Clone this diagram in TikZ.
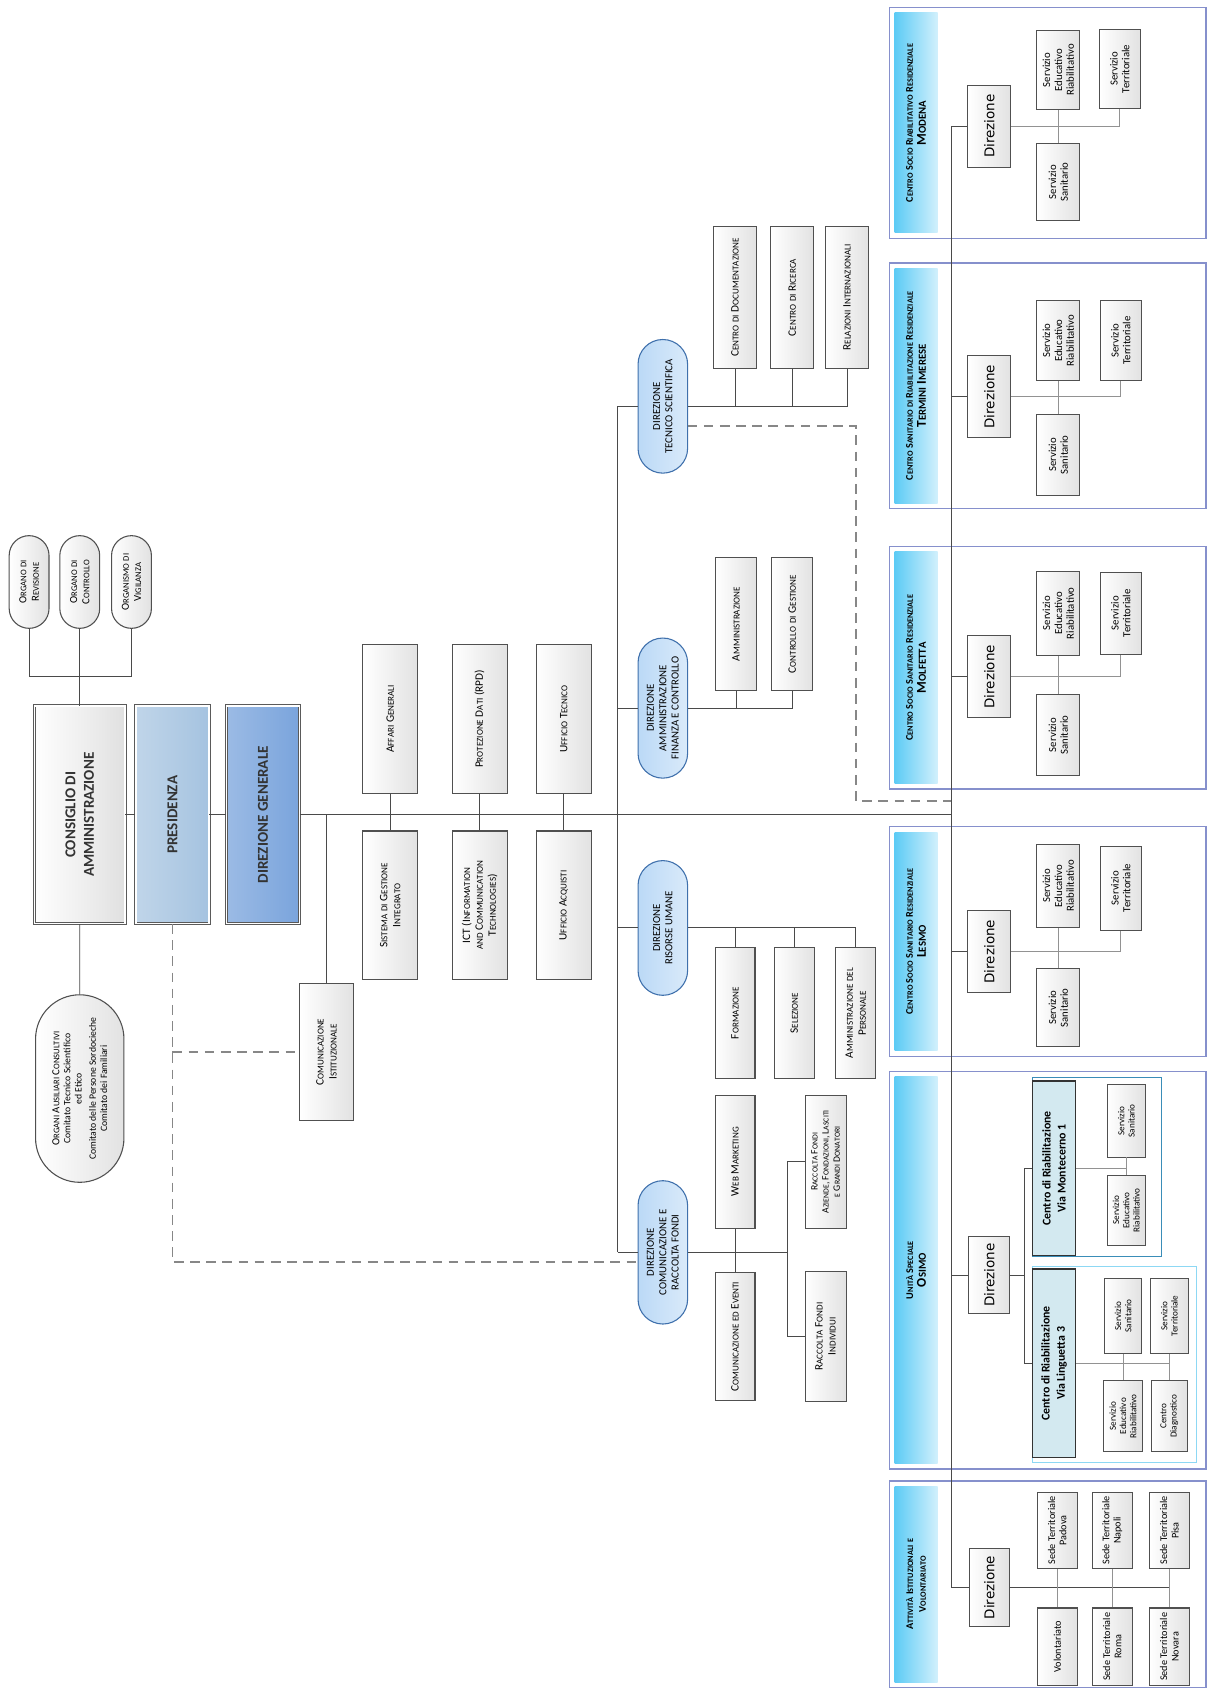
\documentclass[tikz,border=0pt]{standalone}
\usepackage{fontspec}
\setmainfont{Carlito}
\newfontfamily\dirfont{DejaVu Sans}
\usepackage{graphicx}
\usepackage{xcolor}
\usepackage{tikz}
\usetikzlibrary{shapes.misc}
\definecolor{boxline}{HTML}{505050}
\definecolor{boxshade}{HTML}{E2E2E2}
\definecolor{edge}{HTML}{4A4A4A}
\definecolor{dashc}{HTML}{878787}
\definecolor{headline}{HTML}{5A5A5A}
\definecolor{presfill}{HTML}{A5C3E0}
\definecolor{dgfill}{HTML}{7AA4DC}
\definecolor{dirline}{HTML}{3F70AC}
\definecolor{dirfill}{HTML}{BBD9F6}
\definecolor{zoneline}{HTML}{8690CC}
\definecolor{banddark}{HTML}{5CCBF5}
\definecolor{bandlight}{HTML}{D2F0FC}
\definecolor{montline}{HTML}{3A8DB8}
\definecolor{lingline}{HTML}{8DD8F4}
\definecolor{centrofill}{HTML}{D3E9F0}

% small caps made by hand: lower case letters become small capitals
\ExplSyntaxOn
\seq_new:N \l__org_words_seq
\bool_new:N \l__org_gap_bool
\NewDocumentCommand \fsc { m }
  {
    \seq_set_split:Nnn \l__org_words_seq { ~ } { #1 }
    \bool_set_false:N \l__org_gap_bool
    \seq_map_inline:Nn \l__org_words_seq
      {
        \bool_if:NT \l__org_gap_bool { \c_space_tl }
        \bool_set_true:N \l__org_gap_bool
        \tl_map_inline:nn { ##1 }
          {
            \str_if_eq:eeTF { ####1 } { \text_uppercase:n { ####1 } }
              { ####1 }
              { \scalebox { 0.8 } { \text_uppercase:n { ####1 } } }
          }
      }
  }
\ExplSyntaxOff

\tikzset{
  wh/.style 2 args={minimum width=#1, minimum height=#2},
  unit/.style={draw=boxline, line width=1pt, left color=white, right color=boxshade,
    rotate=90, align=center, inner sep=1pt, font=\fontsize{10.5}{12}\selectfont},
  organ/.style={unit, rounded rectangle, font=\fontsize{10}{11.5}\selectfont},
  head/.style={draw=headline, double=white, double distance=1.4pt, line width=0.7pt,
    rotate=90, align=center, text=black!80, font=\fontsize{14}{17}\selectfont\bfseries},
  direz/.style={rounded rectangle, draw=dirline, line width=1pt, left color=dirfill,
    right color=dirfill!55!white, rotate=90, align=center, inner sep=1pt,
    font=\fontsize{10}{11.5}\selectfont},
  zone/.style={draw=zoneline, line width=1.2pt, inner sep=0pt},
  band/.style={left color=banddark, right color=bandlight, rotate=90, align=center,
    inner sep=1pt, font=\fontsize{9.5}{12}\selectfont\bfseries},
  lead/.style={unit, font=\dirfont\fontsize{12.5}{14}\selectfont},
  serv/.style={unit, font=\fontsize{10}{11}\selectfont},
  subserv/.style={unit, line width=0.8pt, font=\fontsize{8.5}{9.5}\selectfont},
  centro/.style={draw=black!80, line width=1.3pt, fill=centrofill, rotate=90, align=center,
    inner sep=1pt, font=\fontsize{11}{14}\selectfont\bfseries},
  link/.style={draw=edge, line width=0.9pt},
  sublink/.style={draw=edge!60, line width=0.8pt},
  dashline/.style={draw=dashc, line width=1.6pt, dash pattern=on 9pt off 6pt},
}

\begin{document}
\begin{tikzpicture}[x=1pt, y=-1pt]
\useasboundingbox (0,0) rectangle (1122,1569);

% governance
\node[organ, wh={88}{37}] (orev) at (27,540) {\fsc{Organo di}\\\fsc{Revisione}};
\node[organ, wh={88}{37}] (ocon) at (74,540) {\fsc{Organo di}\\\fsc{Controllo}};
\node[organ, wh={88}{37}] (ovig) at (122,540) {\fsc{Organismo di}\\\fsc{Vigilanza}};
\coordinate (brk) at (74,628);
\node[head, left color=white, right color=black!12, wh={202}{84}] (cda) at (74,756) {CONSIGLIO DI\\AMMINISTRAZIONE};
\node[organ, wh={176}{82}, font=\fontsize{9}{10.3}\selectfont] (oac) at (74,1010)
  {{\fontsize{10}{11}\selectfont\fsc{Organi Ausiliari Consultivi}}\\Comitato Tecnico Scientifico\\ed Etico\\[3pt]Comitato delle Persone Sordocieche\\Comitato dei Familiari};
\node[head, left color=presfill!70!white, right color=presfill, wh={202}{68}] (pres) at (160,756) {PRESIDENZA};
\node[head, left color=dgfill!75!white, right color=dgfill, wh={202}{68}] (dg) at (244,756) {DIREZIONE GENERALE};

\draw[link] (orev) |- (brk) -| (ovig);
\draw[link] (ocon) -- (cda);
\draw[link] (cda) -- (oac);
\draw[link] (cda) -- (pres);
\draw[link] (pres) -- (dg);

\coordinate (spine) at (883,0);
\coordinate (trunk) at (573,0);
\coordinate (bus) at (731,0);
\draw[link] (dg) -- (dg -| spine);

% staff
\node[unit, wh={127}{50}] (comm) at (303,976) {\fsc{Comunicazione}\\\fsc{Istituzionale}};
\node[unit, wh={138}{51}] (affari) at (362,667) {\fsc{Affari Generali}};
\node[unit, wh={138}{51}] (sgi) at (362,840) {\fsc{Sistema di Gestione}\\\fsc{Integrato}};
\node[unit, wh={138}{51}] (rpd) at (445,667) {\fsc{Protezione Dati (RPD)}};
\node[unit, wh={138}{51}] (ict) at (445,840) {\fsc{ICT (Information}\\\fsc{and Communication}\\\fsc{Technologies)}};
\node[unit, wh={138}{51}] (utec) at (523,667) {\fsc{Ufficio Tecnico}};
\node[unit, wh={138}{51}] (uacq) at (523,840) {\fsc{Ufficio Acquisti}};

\draw[link] (dg -| comm) -- (comm);
\draw[link] (affari) -- (sgi);
\draw[link] (rpd) -- (ict);
\draw[link] (utec) -- (uacq);

% directions
\node[direz, wh={126}{46}] (dts) at (615,377) {DIREZIONE\\TECNICO SCIENTIFICA};
\node[direz, wh={132}{46}] (dafc) at (615,657) {DIREZIONE\\AMMINISTRAZIONE\\FINANZA E CONTROLLO};
\node[direz, wh={127}{46}] (dru) at (615,861) {DIREZIONE\\RISORSE UMANE};
\node[direz, wh={135}{46}] (dcrf) at (615,1162) {DIREZIONE\\COMUNICAZIONE E\\RACCOLTA FONDI};

\draw[link] (dts -| trunk) -- (dcrf -| trunk);
\draw[link] (dts -| trunk) -- (dts);
\draw[link] (dafc -| trunk) -- (dafc);
\draw[link] (dru -| trunk) -- (dru);
\draw[link] (dcrf -| trunk) -- (dcrf);

\node[unit, wh={132}{40}] (cdoc) at (682,276) {\fsc{Centro di Documentazione}};
\node[unit, wh={132}{40}] (cric) at (735,276) {\fsc{Centro di Ricerca}};
\node[unit, wh={132}{40}] (rint) at (786,276) {\fsc{Relazioni Internazionali}};
\draw[link] (dts) -| (rint);
\draw[link] (cdoc) -- (cdoc |- dts);
\draw[link] (cric) -- (cric |- dts);

\node[unit, wh={124}{38}] (amm) at (683,579) {\fsc{Amministrazione}};
\node[unit, wh={124}{38}] (cdg) at (735,579) {\fsc{Controllo di Gestione}};
\draw[link] (dafc) -| (cdg);
\draw[link] (amm) -- (amm |- dafc);

\node[unit, wh={121}{37}] (form) at (682,940) {\fsc{Formazione}};
\node[unit, wh={121}{37}] (sel) at (737,940) {\fsc{Selezione}};
\node[unit, wh={121}{37}] (ammp) at (794,940) {\fsc{Amministrazione del}\\\fsc{Personale}};
\draw[link] (dru) -| (ammp);
\draw[link] (form) -- (form |- dru);
\draw[link] (sel) -- (sel |- dru);

\node[unit, wh={123}{37}] (wm) at (682,1078) {\fsc{Web Marketing}};
\node[unit, wh={119}{37}] (cee) at (682,1240) {\fsc{Comunicazione ed Eventi}};
\node[unit, wh={123}{38}, font=\fontsize{9}{10.3}\selectfont] (rfa) at (766,1078) {\fsc{Raccolta Fondi}\\\fsc{Aziende, Fondazioni, Lasciti}\\\fsc{e Grandi Donatori}};
\node[unit, wh={120}{38}] (rfi) at (766,1240) {\fsc{Raccolta Fondi}\\\fsc{Individui}};
\draw[link] (dcrf) -- (dcrf -| bus);
\draw[link] (wm) -- (cee);
\draw[link] (rfa) -- (rfa -| bus) -- (rfi -| bus) -- (rfi);

% dashed links
\path (dcrf.center) ++(-23,9) coordinate (dcrfin);
\path (dts.center) ++(23,18) coordinate (dtsout);
\coordinate (dbend) at (794,743);
\draw[dashline] (pres) -- (pres |- dcrfin) -- (dcrfin);
\draw[dashline] (pres |- comm) -- (comm);
\draw[dashline] (dtsout) -| (dbend) -- (dbend -| spine);

% territorial units
\node[zone, minimum width=294, minimum height=214] (zmod) at (972,114) {};
\node[zone, minimum width=294, minimum height=228] (zter) at (972,358) {};
\node[zone, minimum width=294, minimum height=225] (zmol) at (972,619.5) {};
\node[zone, minimum width=294, minimum height=213] (zles) at (972,873.5) {};
\node[zone, minimum width=294, minimum height=369] (zos) at (972,1178.5) {};
\node[zone, minimum width=294, minimum height=192] (zatt) at (972,1470) {};

\node[band, wh={204}{40}] (bmod) at (850,114) {\fsc{Centro Socio Riabilitativo Residenziale}\\{\fontsize{12.5}{13}\selectfont\fsc{Modena}}};
\node[band, wh={218}{40}] (bter) at (850,358) {\fsc{Centro Sanitario di Riabilitazione Residenziale}\\{\fontsize{12.5}{13}\selectfont\fsc{Termini Imerese}}};
\node[band, wh={215}{40}] (bmol) at (850,619.5) {\fsc{Centro Socio Sanitario Residenziale}\\{\fontsize{12.5}{13}\selectfont\fsc{Molfetta}}};
\node[band, wh={203}{40}] (bles) at (850,873.5) {\fsc{Centro Socio Sanitario Residenziale}\\{\fontsize{12.5}{13}\selectfont\fsc{Lesmo}}};
\node[band, wh={359}{40}] (bos) at (850,1178.5) {\fsc{Unità Speciale}\\{\fontsize{12.5}{13}\selectfont\fsc{Osimo}}};
\node[band, wh={182}{40}] (batt) at (850,1470) {\fsc{Attività Istituzionali e}\\\fsc{Volontariato}};

\node[lead, wh={76}{40}] (dmod) at (918,117) {Direzione};
\node[lead, wh={76}{40}] (dter) at (918,368) {Direzione};
\node[lead, wh={76}{40}] (dmol) at (918,628) {Direzione};
\node[lead, wh={76}{40}] (dles) at (918,883) {Direzione};
\node[lead, wh={72}{38}] (dos) at (918,1183) {Direzione};
\node[lead, wh={72}{37}] (datt) at (918,1473) {Direzione};

\draw[link] (dmod -| spine) -- (datt -| spine);
\draw[link] (dmod -| spine) -- (dmod);
\draw[link] (dter -| spine) -- (dter);
\draw[link] (dmol -| spine) -- (dmol);
\draw[link] (dles -| spine) -- (dles);
\draw[link] (dos -| spine) -- (dos);
\draw[link] (datt -| spine) -- (datt);

% Modena
\node[serv, wh={74}{40}] (edumod) at (982,65) {Servizio\\Educativo\\Riabilitativo};
\node[serv, wh={74}{38}] (termod) at (1039,64) {Servizio\\Territoriale};
\node[serv, wh={72}{40}] (sanmod) at (982,169) {Servizio\\Sanitario};
\draw[sublink] (dmod) -| (termod);
\draw[sublink] (edumod) -- (sanmod);

% Termini Imerese
\node[serv, wh={74}{40}] (eduter) at (982,316) {Servizio\\Educativo\\Riabilitativo};
\node[serv, wh={74}{38}] (terter) at (1040,316) {Servizio\\Territoriale};
\node[serv, wh={75}{40}] (santer) at (982,422) {Servizio\\Sanitario};
\draw[sublink] (dter) -| (terter);
\draw[sublink] (eduter) -- (santer);

% Molfetta
\node[serv, wh={78}{40}] (edumol) at (982,569) {Servizio\\Educativo\\Riabilitativo};
\node[serv, wh={76}{38}] (termol) at (1040,569) {Servizio\\Territoriale};
\node[serv, wh={75}{40}] (sanmol) at (982,682) {Servizio\\Sanitario};
\draw[sublink] (dmol) -| (termol);
\draw[sublink] (edumol) -- (sanmol);

% Lesmo
\node[serv, wh={77}{40}] (edules) at (982,822) {Servizio\\Educativo\\Riabilitativo};
\node[serv, wh={78}{38}] (terles) at (1040,824) {Servizio\\Territoriale};
\node[serv, wh={72}{40}] (sanles) at (982,935) {Servizio\\Sanitario};
\draw[sublink] (dles) -| (terles);
\draw[sublink] (edules) -- (sanles);

% Osimo
\node[zone, draw=montline, minimum width=120, minimum height=166] (zmon) at (1018,1083) {};
\node[zone, draw=lingline, minimum width=152, minimum height=182] (zlin) at (1034,1266) {};
\node[centro, wh={162}{40}] (cmon) at (978,1084) {Centro di Riabilitazione\\Via Montecerno 1};
\node[centro, wh={175}{40}] (clin) at (978,1265) {Centro di Riabilitazione\\Via Linguetta 3};
\coordinate (osbus) at (951,0);
\draw[link] (dos) -- (dos -| osbus);
\draw[link] (cmon) -- (cmon -| osbus) -- (clin -| osbus) -- (clin);

\node[subserv, wh={67}{35}] (ssmon) at (1045,1040) {Servizio\\Sanitario};
\node[subserv, wh={65}{35}] (sermon) at (1045,1123) {Servizio\\Educativo\\Riabilitativo};
\draw[sublink] (cmon) -- (cmon -| ssmon);
\draw[sublink] (ssmon) -- (sermon);

\node[subserv, wh={69}{34}] (sslin) at (1042,1221) {Servizio\\Sanitario};
\node[subserv, wh={69}{35}] (stlin) at (1085,1221) {Servizio\\Territoriale};
\node[subserv, wh={66}{36}] (serlin) at (1042,1314) {Servizio\\Educativo\\Riabilitativo};
\node[subserv, wh={66}{33}] (cdia) at (1085,1314) {Centro\\Diagnostico};
\draw[sublink] (clin) -- (clin -| stlin);
\draw[sublink] (stlin) -- (cdia);
\draw[sublink] (sslin) -- (serlin);

% Attivita istituzionali
\node[serv, wh={71}{37}, font=\fontsize{9.5}{10.5}\selectfont] (padova) at (981,1420) {Sede Territoriale\\Padova};
\node[serv, wh={71}{37}, font=\fontsize{9.5}{10.5}\selectfont] (napoli) at (1032,1420) {Sede Territoriale\\Napoli};
\node[serv, wh={71}{37}, font=\fontsize{9.5}{10.5}\selectfont] (pisa) at (1085,1420) {Sede Territoriale\\Pisa};
\node[serv, wh={72}{37}, font=\fontsize{9.5}{10.5}\selectfont] (volont) at (981,1528) {Volontariato};
\node[serv, wh={72}{37}, font=\fontsize{9.5}{10.5}\selectfont] (roma) at (1032,1528) {Sede Territoriale\\Roma};
\node[serv, wh={72}{37}, font=\fontsize{9.5}{10.5}\selectfont] (novara) at (1085,1528) {Sede Territoriale\\Novara};
\draw[link] (datt) -- (datt -| pisa);
\draw[sublink] (padova) -- (volont);
\draw[sublink] (napoli) -- (roma);
\draw[sublink] (pisa) -- (novara);
\end{tikzpicture}
\end{document}
